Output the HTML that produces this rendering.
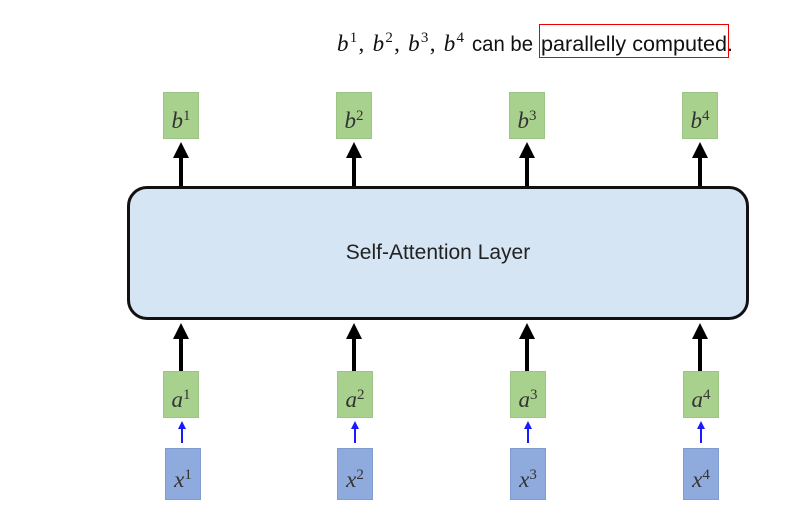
<!DOCTYPE html>
<html><head><style>
body{margin:0;width:808px;height:520px;background:#fff;position:relative;overflow:hidden;font-family:"Liberation Sans",sans-serif}
.a{position:absolute}
.g{background:#a9d18e;border:1px solid #9cc585;box-sizing:border-box;width:36px;height:47px;text-align:center;font-family:"Liberation Serif",serif;font-style:italic;font-size:23px;line-height:47px;color:#333}
.x{background:#8faadc;border:1px solid #7f9bd0;box-sizing:border-box;width:36px;height:52px;text-align:center;font-family:"Liberation Serif",serif;font-style:italic;font-size:23px;line-height:52px;color:#333}
sup{font-style:normal;font-size:15px;vertical-align:8px}
</style></head><body>
<svg class="a" style="left:0;top:0" width="808" height="520">
<text x="337" y="51" font-size="23" fill="#111" font-family="Liberation Serif" font-style="italic" textLength="127" lengthAdjust="spacing">b<tspan font-style="normal" font-size="15" dy="-9">1</tspan><tspan dy="9" font-style="normal">, </tspan>b<tspan font-style="normal" font-size="15" dy="-9">2</tspan><tspan dy="9" font-style="normal">, </tspan>b<tspan font-style="normal" font-size="15" dy="-9">3</tspan><tspan dy="9" font-style="normal">, </tspan>b<tspan font-style="normal" font-size="15" dy="-9">4</tspan></text>
<text x="472" y="51" font-size="21" fill="#111" font-family="Liberation Sans" textLength="61" lengthAdjust="spacingAndGlyphs">can be</text>
<text x="541" y="51" font-size="21" fill="#111" font-family="Liberation Sans" textLength="192" lengthAdjust="spacingAndGlyphs">parallelly computed.</text>
<rect x="539.5" y="24.5" width="189" height="33" fill="none" stroke="#e00" stroke-width="1"/>
</svg>
<div class="a" style="left:127px;top:186px;width:616px;height:128px;border:3px solid #111;border-radius:20px;background:#d6e5f3;text-align:center;line-height:128px;font-size:21px;color:#222">Self-Attention Layer</div>
<svg class="a" style="left:0;top:0" width="808" height="520">
<defs><marker id="k" markerWidth="4" markerHeight="4" refX="1" refY="2" orient="auto"><path d="M0,0L4,2L0,4z" fill="#000"/></marker>
<marker id="bl" markerWidth="4" markerHeight="4" refX="1" refY="2" orient="auto"><path d="M0,0L4,2L0,4z" fill="#1a1aff"/></marker></defs>
<g stroke="#000" stroke-width="4" marker-end="url(#k)">
<line x1="181" y1="186" x2="181" y2="154"/><line x1="354" y1="186" x2="354" y2="154"/><line x1="527" y1="186" x2="527" y2="154"/><line x1="700" y1="186" x2="700" y2="154"/>
<line x1="181" y1="371" x2="181" y2="335"/><line x1="354" y1="371" x2="354" y2="335"/><line x1="527" y1="371" x2="527" y2="335"/><line x1="700" y1="371" x2="700" y2="335"/>
</g>
<g stroke="#1a1aff" stroke-width="2" marker-end="url(#bl)">
<line x1="182" y1="443" x2="182" y2="427"/><line x1="355" y1="443" x2="355" y2="427"/><line x1="528" y1="443" x2="528" y2="427"/><line x1="701" y1="443" x2="701" y2="427"/>
</g></svg>
<div class="a g" style="left:163px;top:92px">b<sup>1</sup></div>
<div class="a g" style="left:336px;top:92px">b<sup>2</sup></div>
<div class="a g" style="left:509px;top:92px">b<sup>3</sup></div>
<div class="a g" style="left:682px;top:92px">b<sup>4</sup></div>
<div class="a g" style="left:163px;top:371px">a<sup>1</sup></div>
<div class="a g" style="left:337px;top:371px">a<sup>2</sup></div>
<div class="a g" style="left:510px;top:371px">a<sup>3</sup></div>
<div class="a g" style="left:683px;top:371px">a<sup>4</sup></div>
<div class="a x" style="left:165px;top:448px">x<sup>1</sup></div>
<div class="a x" style="left:337px;top:448px">x<sup>2</sup></div>
<div class="a x" style="left:510px;top:448px">x<sup>3</sup></div>
<div class="a x" style="left:683px;top:448px">x<sup>4</sup></div>
</body></html>
